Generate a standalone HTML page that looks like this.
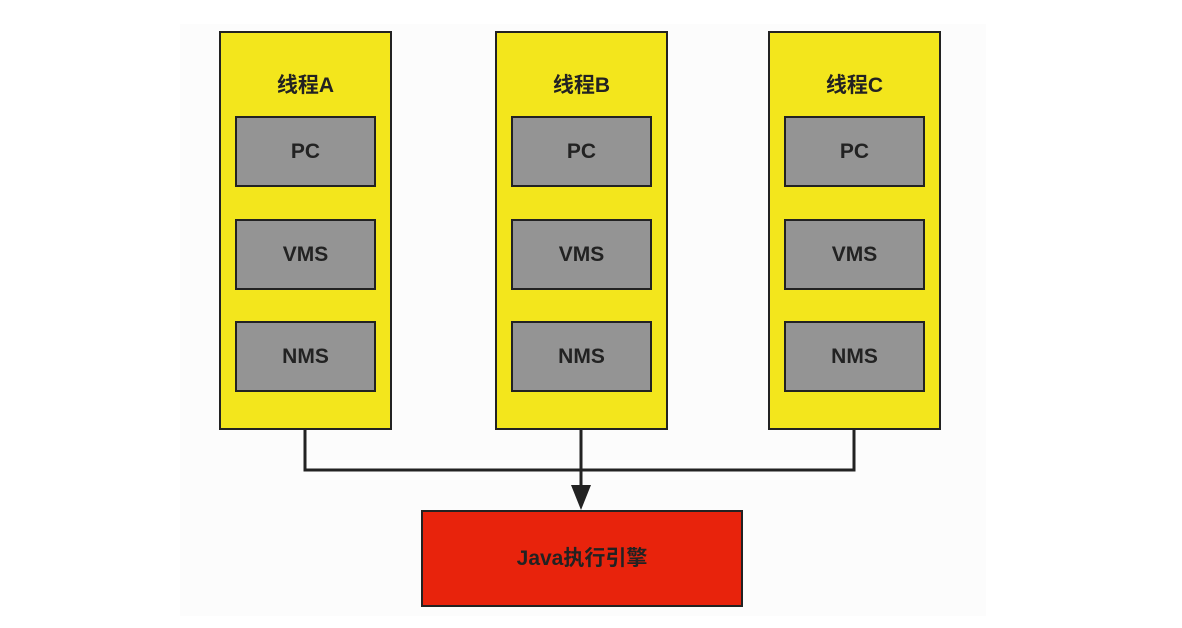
<!DOCTYPE html>
<html><head><meta charset="utf-8"><style>
body{margin:0;width:1182px;height:628px;background:#fff;position:relative;overflow:hidden;font-family:"Liberation Sans","Noto Sans CJK SC",sans-serif;font-weight:bold;color:#222}
.bg{position:absolute;left:180px;top:24px;width:806px;height:592px;background:#fcfcfc}
.col{position:absolute;top:31px;width:169px;height:395px;background:#f3e61c;border:2px solid #222}
.t{position:absolute;top:36px;width:100%;text-align:center;font-size:21px}
.b{position:absolute;left:14px;width:137px;height:67px;background:#949494;border:2px solid #222;text-align:center;line-height:67px;font-size:21px}
.red{position:absolute;left:421px;top:510px;width:318px;height:93px;background:#e8230c;border:2px solid #222;text-align:center;line-height:93px;font-size:21px}
</style></head><body>
<div class="bg"></div>
<div class="col" style="left:219px"><div class="t">线程A</div><div class="b" style="top:83px">PC</div><div class="b" style="top:186px">VMS</div><div class="b" style="top:288px">NMS</div></div>
<div class="col" style="left:495px"><div class="t">线程B</div><div class="b" style="top:83px">PC</div><div class="b" style="top:186px">VMS</div><div class="b" style="top:288px">NMS</div></div>
<div class="col" style="left:768px"><div class="t">线程C</div><div class="b" style="top:83px">PC</div><div class="b" style="top:186px">VMS</div><div class="b" style="top:288px">NMS</div></div>
<svg style="position:absolute;left:0;top:0" width="1182" height="628">
<polyline points="305,430 305,470 854,470 854,430" fill="none" stroke="#222" stroke-width="3"/>
<line x1="581" y1="430" x2="581" y2="490" stroke="#222" stroke-width="3"/>
<polygon points="571,485 591,485 581,510" fill="#222"/>
</svg>
<div class="red">Java执行引擎</div>
</body></html>
